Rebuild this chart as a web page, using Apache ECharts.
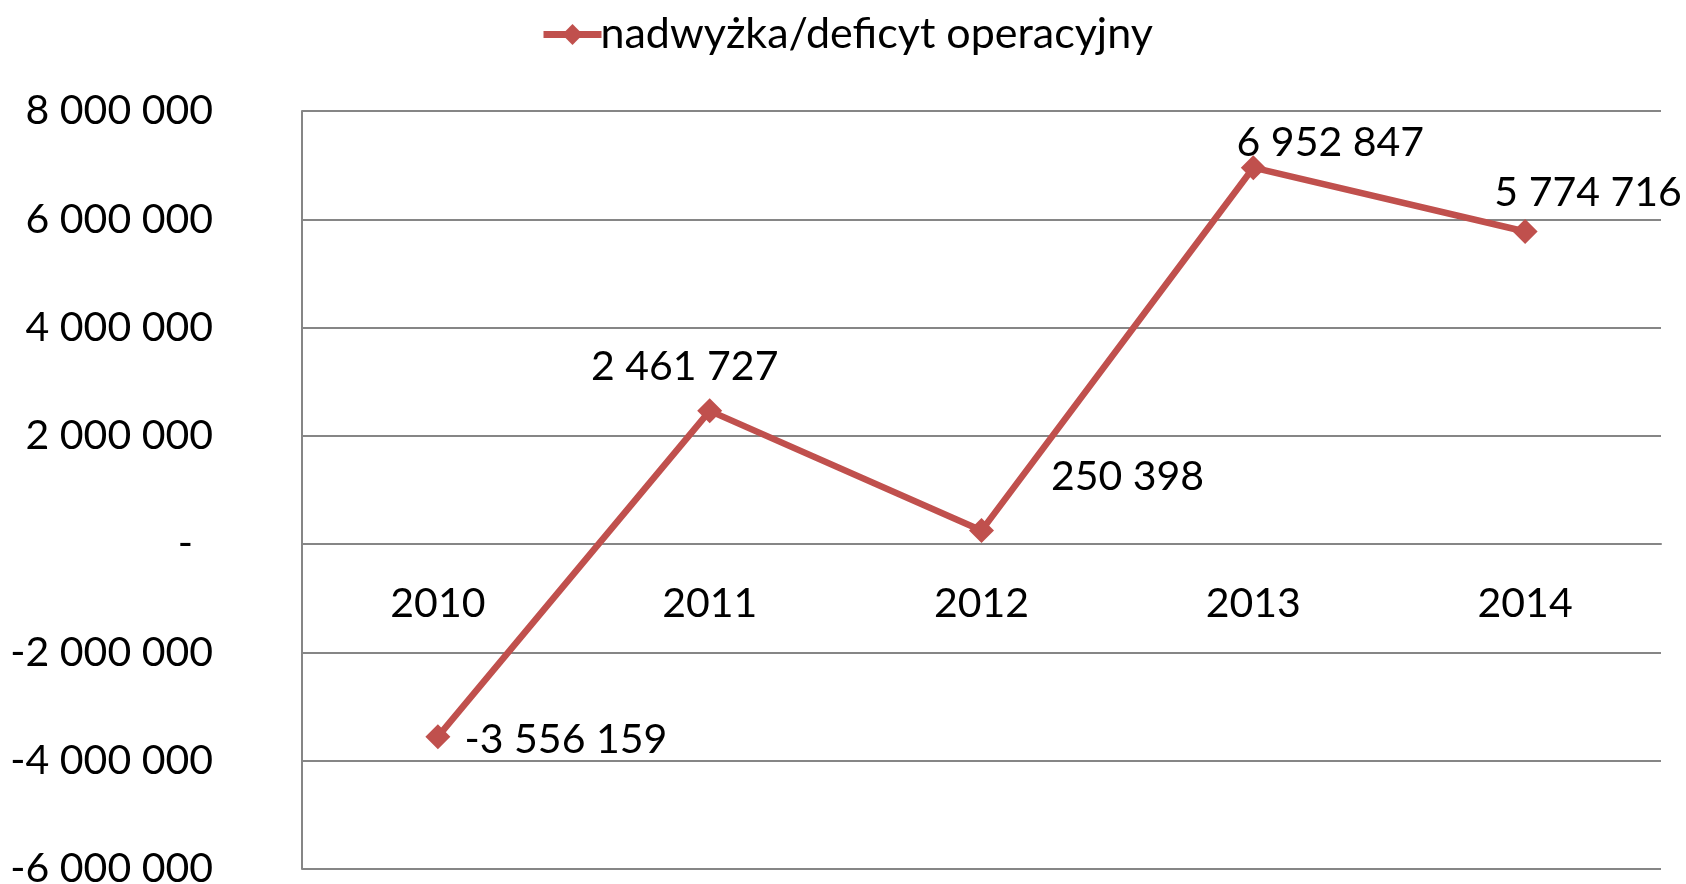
<!DOCTYPE html>
<html>
<head>
<meta charset="utf-8">
<script src="https://cdn.jsdelivr.net/npm/echarts@6/dist/echarts.min.js"></script>
<style>
  html, body { margin: 0; padding: 0; background: #fff; }
  #chart { width: 1686px; height: 884px; }
</style>
</head>
<body>
<div id="chart"></div>
<script>
// values
var years = ['2010', '2011', '2012', '2013', '2014'];
var seriesName = 'nadwyżka/deficyt operacyjny';
var values = [-3556159, 2461727, 250398, 6952847, 5774716];

// where each data label's centre sits, relative to its point (px)
var labelOffsets = [[128, 3], [-25, -44], [146, -54], [77, -25], [63, -39]];

var FONT = 'Lato';
var RED = '#c0504d';
var GRID = '#868686';
var YMIN = -6000000, YMAX = 8000000;
var PLOT_TOP = 111, PLOT_BOTTOM = 15, H = 884;

function fmt(v) {
    if (v === 0) return '{z|-}';
    var s = String(Math.abs(v)).replace(/\B(?=(\d{3})+(?!\d))/g, ' ');
    return (v < 0 ? '-' : '') + s;
}

// category axis sits on the zero line, lift it from the bottom of the grid
var plotH = H - PLOT_TOP - PLOT_BOTTOM;
var zeroLift = plotH * (0 - YMIN) / (YMAX - YMIN);

var chart = echarts.init(document.getElementById('chart'));

var data = values.map(function (v, i) {
    return {
        value: v,
        label: { position: 'inside', offset: labelOffsets[i] }
    };
});

chart.setOption({
    animation: false,
    textStyle: { fontFamily: FONT },
    legend: {
        top: 8,
        left: 535,
        itemWidth: 58,
        itemHeight: 26,
        itemGap: 0,
        lineStyle: { width: 7 },
        textStyle: { fontFamily: FONT, fontSize: 43, color: '#000', padding: [0, 0, 0, -6] },
        data: [seriesName]
    },
    grid: { left: 302, right: 25, top: PLOT_TOP, bottom: PLOT_BOTTOM, containLabel: false, outerBoundsMode: 'none' },
    xAxis: {
        type: 'category',
        data: years,
        boundaryGap: true,
        offset: -zeroLift,
        axisLine: { onZero: false, lineStyle: { color: GRID, width: 2 } },
        axisTick: { show: false },
        axisLabel: { margin: 39, fontFamily: FONT, fontSize: 41, color: '#000' }
    },
    yAxis: {
        type: 'value',
        min: YMIN,
        max: YMAX,
        interval: 2000000,
        axisLine: { show: true, lineStyle: { color: GRID, width: 2 } },
        axisTick: { show: false },
        splitLine: { lineStyle: { color: GRID, width: 2 } },
        axisLabel: {
            margin: 89,
            fontFamily: FONT,
            fontSize: 41,
            color: '#000',
            formatter: fmt,
            rich: { z: { fontFamily: FONT, fontSize: 41, color: '#000', padding: [0, 20, 0, 0] } }
        }
    },
    series: [{
        name: seriesName,
        type: 'line',
        data: data,
        symbol: 'diamond',
        symbolSize: 25,
        itemStyle: { color: RED },
        lineStyle: { color: RED, width: 6.5 },
        label: {
            show: true,
            fontFamily: FONT,
            fontSize: 41,
            color: '#000',
            formatter: function (p) { return fmt(p.value); }
        }
    }]
});
</script>
</body>
</html>
